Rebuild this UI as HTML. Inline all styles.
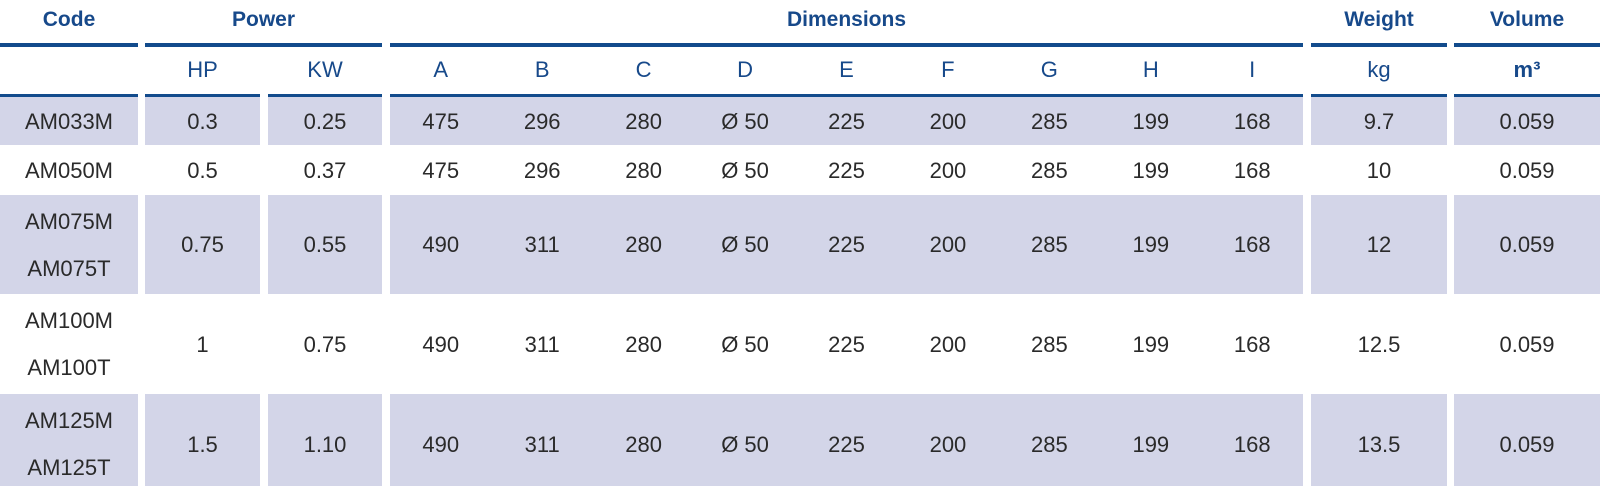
<!DOCTYPE html>
<html><head><meta charset="utf-8"><style>
*{margin:0;padding:0;box-sizing:border-box}
body{width:1600px;height:486px;background:#fff;position:relative;overflow:hidden;font-family:"Liberation Sans",sans-serif}
.b{position:absolute}
.h{color:#17498a;font-weight:bold;font-size:21px;text-align:center;top:6px;height:28px;line-height:28px}
.s{color:#17498a;font-size:22px;text-align:center;top:56px;height:28px;line-height:28px}
.l1{top:43px;height:4px;background:#124b8c}
.l2{top:94px;height:4px;background:#124b8c}
.c0{left:0;width:138px}.c1{left:145px;width:115px}.c2{left:268px;width:114px}
.c3{left:390px;width:913px}.c4{left:1311px;width:136px}.c5{left:1454px;width:146px}
.p{left:145px;width:237px}
.r{color:#2a2a2a;font-size:22px;display:flex;align-items:center;justify-content:center;text-align:center;line-height:47px}
.g{background:#d3d5e8}
.r1{top:97px;height:48px}.r2{top:145px;height:50px}.r3{top:195px;height:99px}.r4{top:294px;height:100px}.r5{top:394px;height:92px}
.d{display:flex}.d span{flex:1;text-align:center}
</style></head><body>
<div class="b h c0">Code</div><div class="b h p">Power</div><div class="b h c3">Dimensions</div><div class="b h c4">Weight</div><div class="b h c5">Volume</div>
<div class="b l1 c0"></div><div class="b l1 p"></div><div class="b l1 c3"></div><div class="b l1 c4"></div><div class="b l1 c5"></div>
<div class="b s c1">HP</div><div class="b s c2">KW</div>
<div class="b s c3 d"><span>A</span><span>B</span><span>C</span><span>D</span><span>E</span><span>F</span><span>G</span><span>H</span><span>I</span></div>
<div class="b s c4">kg</div><div class="b s c5" style="font-weight:bold">m³</div>
<div class="b l2 c0"></div><div class="b l2 c1"></div><div class="b l2 c2"></div><div class="b l2 c3"></div><div class="b l2 c4"></div><div class="b l2 c5"></div>

<div class="b r g r1 c0">AM033M</div><div class="b r g r1 c1">0.3</div><div class="b r g r1 c2">0.25</div>
<div class="b r g r1 c3 d"><span>475</span><span>296</span><span>280</span><span>Ø 50</span><span>225</span><span>200</span><span>285</span><span>199</span><span>168</span></div>
<div class="b r g r1 c4">9.7</div><div class="b r g r1 c5">0.059</div>

<div class="b r r2 c0">AM050M</div><div class="b r r2 c1">0.5</div><div class="b r r2 c2">0.37</div>
<div class="b r r2 c3 d"><span>475</span><span>296</span><span>280</span><span>Ø 50</span><span>225</span><span>200</span><span>285</span><span>199</span><span>168</span></div>
<div class="b r r2 c4">10</div><div class="b r r2 c5">0.059</div>

<div class="b r g r3 c0">AM075M<br>AM075T</div><div class="b r g r3 c1">0.75</div><div class="b r g r3 c2">0.55</div>
<div class="b r g r3 c3 d"><span>490</span><span>311</span><span>280</span><span>Ø 50</span><span>225</span><span>200</span><span>285</span><span>199</span><span>168</span></div>
<div class="b r g r3 c4">12</div><div class="b r g r3 c5">0.059</div>

<div class="b r r4 c0">AM100M<br>AM100T</div><div class="b r r4 c1">1</div><div class="b r r4 c2">0.75</div>
<div class="b r r4 c3 d"><span>490</span><span>311</span><span>280</span><span>Ø 50</span><span>225</span><span>200</span><span>285</span><span>199</span><span>168</span></div>
<div class="b r r4 c4">12.5</div><div class="b r r4 c5">0.059</div>

<div class="b r g r5 c0" style="padding-top:8px">AM125M<br>AM125T</div><div class="b r g r5 c1" style="padding-top:8px">1.5</div><div class="b r g r5 c2" style="padding-top:8px">1.10</div>
<div class="b r g r5 c3 d" style="padding-top:8px"><span>490</span><span>311</span><span>280</span><span>Ø 50</span><span>225</span><span>200</span><span>285</span><span>199</span><span>168</span></div>
<div class="b r g r5 c4" style="padding-top:8px">13.5</div><div class="b r g r5 c5" style="padding-top:8px">0.059</div>
</body></html>
